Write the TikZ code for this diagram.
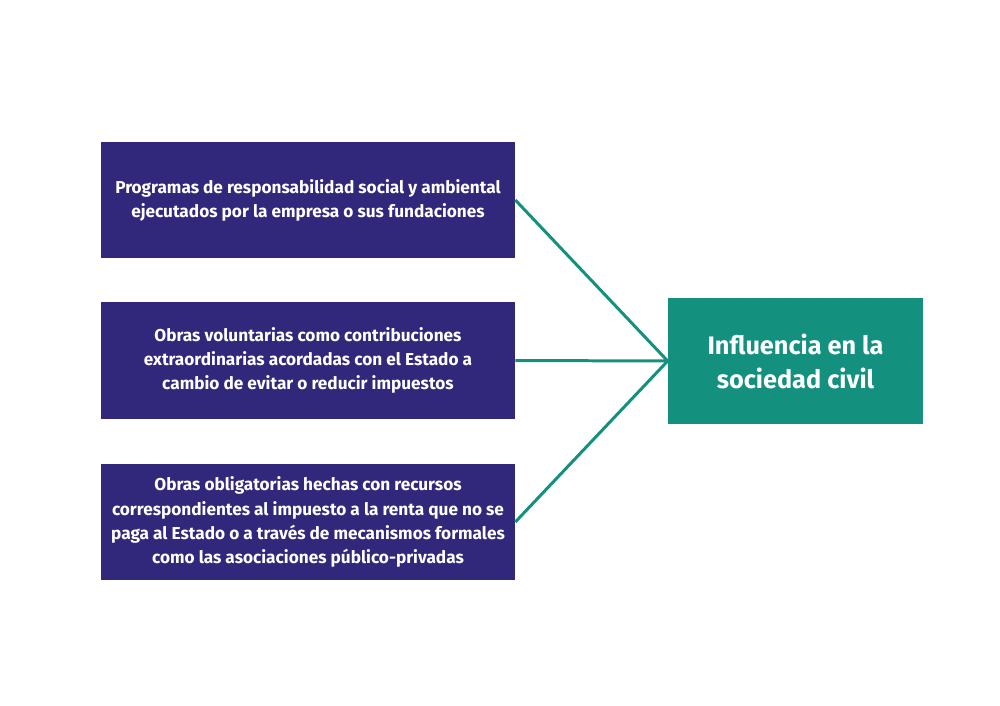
\documentclass[tikz,border=0pt]{standalone}
\usepackage{fontspec}
\setmainfont{Fira Sans}
\usepackage{xcolor}

\definecolor{boxpurple}{HTML}{31287C}
\definecolor{boxteal}{HTML}{14907F}

\begin{document}
\begin{tikzpicture}[
  x=0.02cm, y=-0.02cm,
  srcbox/.style={
    fill=boxpurple, rectangle, text=white,
    minimum width=8.28cm, minimum height=2.34cm,
    font=\fontsize{9.8}{13.7}\selectfont\bfseries, align=center, inner sep=0pt
  },
  goalbox/.style={
    fill=boxteal, rectangle, text=white,
    minimum width=5.1cm, minimum height=2.54cm,
    font=\fontsize{14.4}{19.4}\selectfont\bfseries, align=center, inner sep=0pt
  },
  link/.style={draw=boxteal, line width=1.7pt},
]

\useasboundingbox (0,0) rectangle (1000,706);

\node[srcbox] (prog) at (308, 200) {Programas de responsabilidad social y ambiental\\ejecutados por la empresa o sus fundaciones};
\node[srcbox] (volu) at (308, 360.5) {Obras voluntarias como contribuciones\\extraordinarias acordadas con el Estado a\\cambio de evitar o reducir impuestos};
\node[srcbox] (obli) at (308, 522) {Obras obligatorias hechas con recursos\\correspondientes al impuesto a la renta que no se\\paga al Estado o a través de mecanismos formales\\como las asociaciones público-privadas};
\node[goalbox] (infl) at (795.5, 361) {Influencia en la\\sociedad civil};

\draw[link] (prog.east) -- (infl.west);
\draw[link] (volu.east) -- (infl.west);
\draw[link] (obli.east) -- (infl.west);

\end{tikzpicture}
\end{document}
